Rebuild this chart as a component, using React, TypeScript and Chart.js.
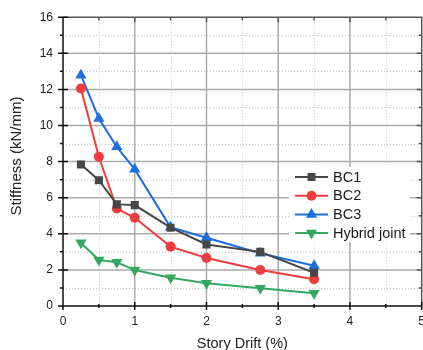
import { useEffect, useRef } from "react";
import { Chart, registerables } from "chart.js";

Chart.register(...registerables);

// Story drift (%) at each measured step
const drift = [0.25, 0.5, 0.75, 1.0, 1.5, 2.0, 2.75, 3.5];

// Secant stiffness (kN/mm) per specimen
const bc1 = [7.84, 6.97, 5.63, 5.59, 4.34, 3.41, 3.0, 1.84];
const bc2 = [12.05, 8.27, 5.4, 4.89, 3.29, 2.66, 1.99, 1.48];
const bc3 = [12.79, 10.39, 8.82, 7.57, 4.36, 3.78, 2.92, 2.23];
const hybrid = [3.5, 2.55, 2.42, 1.99, 1.57, 1.26, 0.98, 0.7];

const seriesNames = ["BC1", "BC2", "BC3", "Hybrid joint"];
const seriesColors = ["#474747", "#ef3c3c", "#1f6ee0", "#35a85e"];

const xTitle = "Story Drift (%)";
const yTitle = "Stiffness (kN/mm)";

const FONT = "'Liberation Sans', Arial, sans-serif";

type Marker = "rect" | "circle" | "up" | "down";
const markers: Marker[] = ["rect", "circle", "up", "down"];

function drawMarker(ctx: CanvasRenderingContext2D, kind: Marker, x: number, y: number, color: string) {
  ctx.fillStyle = color;
  ctx.beginPath();
  if (kind === "rect") {
    ctx.rect(x - 4, y - 4, 8, 8);
  } else if (kind === "circle") {
    ctx.arc(x, y, 5, 0, Math.PI * 2);
  } else {
    const r = 6.5;
    const s = kind === "up" ? 1 : -1;
    ctx.moveTo(x, y - s * r);
    ctx.lineTo(x + r * 0.866, y + s * r * 0.5);
    ctx.lineTo(x - r * 0.866, y + s * r * 0.5);
    ctx.closePath();
  }
  ctx.fill();
}

const framePlugin = {
  id: "frameAndLegend",
  beforeDatasetsDraw(chart: any) {
    const { ctx, chartArea: a, scales } = chart;
    const xs = scales.x;
    const ys = scales.y;
    ctx.save();
    // minor dotted grid
    ctx.strokeStyle = "#c6c6c6";
    ctx.lineWidth = 1;
    ctx.setLineDash([1, 2]);
    ctx.beginPath();
    for (let v = 0.5; v < 5; v += 1) {
      const px = Math.round(xs.getPixelForValue(v)) + 0.5;
      ctx.moveTo(px, a.top);
      ctx.lineTo(px, a.bottom);
    }
    for (let v = 1; v < 16; v += 2) {
      const py = Math.round(ys.getPixelForValue(v)) + 0.5;
      ctx.moveTo(a.left, py);
      ctx.lineTo(a.right, py);
    }
    ctx.stroke();
    // major solid grid
    ctx.setLineDash([]);
    ctx.strokeStyle = "#ababab";
    ctx.lineWidth = 1.5;
    ctx.beginPath();
    for (let v = 1; v < 5; v += 1) {
      const px = xs.getPixelForValue(v);
      ctx.moveTo(px, a.top);
      ctx.lineTo(px, a.bottom);
    }
    for (let v = 2; v < 16; v += 2) {
      const py = ys.getPixelForValue(v);
      ctx.moveTo(a.left, py);
      ctx.lineTo(a.right, py);
    }
    ctx.stroke();
    ctx.restore();
  },
  afterDatasetsDraw(chart: any) {
    const { ctx, chartArea: a, scales } = chart;
    const xs = scales.x;
    const ys = scales.y;
    ctx.save();

    // top and right frame
    ctx.strokeStyle = "#555";
    ctx.lineWidth = 1.5;
    ctx.beginPath();
    ctx.moveTo(a.left, a.top);
    ctx.lineTo(a.right, a.top);
    ctx.lineTo(a.right, a.bottom);
    for (let v = 0.5; v < 5; v += 0.5) {
      const px = xs.getPixelForValue(v);
      const len = Number.isInteger(v) ? 5 : 3;
      ctx.moveTo(px, a.top);
      ctx.lineTo(px, a.top + len);
    }
    for (let v = 1; v < 16; v += 1) {
      const py = ys.getPixelForValue(v);
      const len = v % 2 === 0 ? 5 : 3;
      ctx.moveTo(a.right, py);
      ctx.lineTo(a.right - len, py);
    }
    ctx.stroke();

    // bottom and left axes
    ctx.strokeStyle = "#111";
    ctx.lineWidth = 1.5;
    ctx.beginPath();
    ctx.moveTo(a.left, a.top);
    ctx.lineTo(a.left, a.bottom);
    ctx.lineTo(a.right, a.bottom);
    for (let v = 0; v <= 5; v += 0.5) {
      const px = xs.getPixelForValue(v);
      const len = Number.isInteger(v) ? 4 : 2;
      ctx.moveTo(px, a.bottom - len);
      ctx.lineTo(px, a.bottom + len);
    }
    for (let v = 0; v <= 16; v += 1) {
      const py = ys.getPixelForValue(v);
      const len = v % 2 === 0 ? 5 : 3;
      ctx.moveTo(a.left - len, py);
      ctx.lineTo(a.left + (v % 2 === 0 ? 5 : 0), py);
    }
    ctx.stroke();

    // axis titles
    ctx.fillStyle = "#222";
    ctx.textAlign = "center";
    ctx.textBaseline = "middle";
    ctx.font = `14.5px ${FONT}`;
    ctx.fillText(xTitle, (a.left + a.right) / 2, 344);
    ctx.save();
    ctx.translate(17, 156);
    ctx.rotate(-Math.PI / 2);
    ctx.font = `15px ${FONT}`;
    ctx.fillText(yTitle, 0, 0);
    ctx.restore();

    // legend
    ctx.fillStyle = "#fff";
    ctx.fillRect(289, 167, 121, 75);
    ctx.font = `14.5px ${FONT}`;
    ctx.textAlign = "left";
    seriesNames.forEach((name, i) => {
      const y = 177 + i * 18.7;
      const color = seriesColors[i];
      ctx.strokeStyle = color;
      ctx.lineWidth = 2;
      ctx.beginPath();
      ctx.moveTo(295, y);
      ctx.lineTo(328, y);
      ctx.stroke();
      drawMarker(ctx, markers[i], 311.5, y, color);
      ctx.fillStyle = "#1a1a1a";
      ctx.fillText(name, 333, y + 0.5);
    });

    ctx.restore();
  },
};

export default function App() {
  const ref = useRef<HTMLCanvasElement | null>(null);

  useEffect(() => {
    if (!ref.current) return;
    const series = [bc1, bc2, bc3, hybrid];
    const styles: any[] = [
      { pointStyle: "rect", pointRadius: 5.7, pointRotation: 0 },
      { pointStyle: "circle", pointRadius: 5, pointRotation: 0 },
      { pointStyle: "triangle", pointRadius: 6.5, pointRotation: 0 },
      { pointStyle: "triangle", pointRadius: 6.5, pointRotation: 180 },
    ];
    const chart = new Chart(ref.current, {
      type: "line",
      data: {
        datasets: series.map((vals, i) => ({
          label: seriesNames[i],
          data: drift.map((x, j) => ({ x, y: vals[j] })),
          borderColor: seriesColors[i],
          backgroundColor: seriesColors[i],
          pointBackgroundColor: seriesColors[i],
          pointBorderColor: seriesColors[i],
          pointBorderWidth: 0,
          borderWidth: 2,
          tension: 0,
          ...styles[i],
        })),
      },
      options: {
        responsive: false,
        animation: false,
        events: [],
        layout: { padding: { left: 0, top: 17, right: 450 - 421.7, bottom: 0 } },
        plugins: { legend: { display: false }, tooltip: { enabled: false } },
        scales: {
          x: {
            type: "linear",
            min: 0,
            max: 5,
            ticks: { stepSize: 1, padding: 8, color: "#222", font: { size: 12, family: FONT } },
            grid: { display: false, drawTicks: false },
            border: { display: false },
            afterFit: (s: any) => {
              s.height = 44;
            },
          },
          y: {
            type: "linear",
            min: 0,
            max: 16,
            ticks: { stepSize: 2, padding: 10, color: "#222", font: { size: 12, family: FONT } },
            grid: { display: false, drawTicks: false },
            border: { display: false },
            afterFit: (s: any) => {
              s.width = 63;
            },
          },
        },
      },
      plugins: [framePlugin],
    });
    return () => chart.destroy();
  }, []);

  return (
    <div style={{ position: "fixed", left: 0, top: 0, width: 423, height: 350, overflow: "hidden", background: "#fff" }}>
      <canvas ref={ref} width={450} height={350} style={{ display: "block" }} />
    </div>
  );
}
